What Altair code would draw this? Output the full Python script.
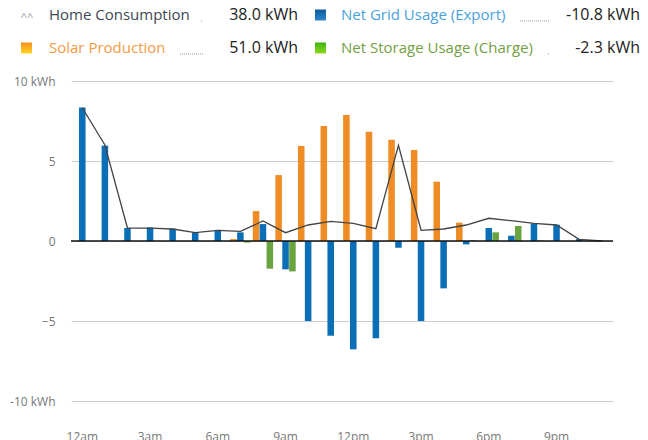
import altair as alt
import pandas as pd

# ---------------- data ----------------
hours = ["12am", "1am", "2am", "3am", "4am", "5am", "6am", "7am", "8am", "9am", "10am", "11am",
         "12pm", "1pm", "2pm", "3pm", "4pm", "5pm", "6pm", "7pm", "8pm", "9pm", "10pm", "11pm"]
tick_hours = ["12am", "3am", "6am", "9am", "12pm", "3pm", "6pm", "9pm"]

solar = [0, 0, 0, 0, 0, 0, 0, 0.12, 1.87, 4.12, 5.94, 7.19,
         7.88, 6.83, 6.33, 5.69, 3.71, 1.15, 0, 0, 0, 0, 0, 0]
grid = [8.35, 5.96, 0.81, 0.85, 0.77, 0.52, 0.69, 0.54, 1.06, -1.77, -5.0, -5.92,
        -6.77, -6.08, -0.42, -5.0, -2.96, -0.21, 0.81, 0.33, 1.08, 1.02, 0.12, 0.02]
storage = [0, 0, 0, 0, 0, 0, 0, -0.1, -1.73, -1.9, 0, 0,
           0, 0, 0, 0, 0, 0.05, 0.54, 0.94, 0.03, 0, 0, 0]
home = [8.33, 6.0, 0.81, 0.81, 0.75, 0.52, 0.67, 0.6, 1.25, 0.52, 1.0, 1.23,
        1.1, 0.77, 5.98, 0.67, 0.75, 1.0, 1.42, 1.27, 1.1, 1.0, 0.1, 0.0]

series_names = ["Solar Production", "Net Grid Usage (Export)", "Net Storage Usage (Charge)"]
legend_names = ["Home Consumption", "Solar Production", "Net Grid Usage (Export)", "Net Storage Usage (Charge)"]
legend_totals = ["38.0 kWh", "51.0 kWh", "-10.8 kWh", "-2.3 kWh"]
y_ticks = [-10, -5, 0, 5, 10]

# ---------------- styles ----------------
FONT = "Open Sans"
BLUE = "#0b6fb8"
ORANGE = "#f08c26"
GREEN = "#6aa441"

bars_df = pd.DataFrame({
    "hour": hours * 3,
    "series": [series_names[0]] * 24 + [series_names[1]] * 24 + [series_names[2]] * 24,
    "kwh": solar + grid + storage,
})
home_df = pd.DataFrame({"hour": hours, "kwh": home})

x_scale = alt.Scale(domain=hours, paddingInner=0.1, paddingOuter=0.05)
y_scale = alt.Scale(domain=[-10, 10], nice=False)

bars = alt.Chart(bars_df).mark_bar().encode(
    x=alt.X("hour:N", scale=x_scale, sort=hours,
            axis=alt.Axis(values=tick_hours, labelAngle=0, domain=False, ticks=False, grid=False,
                          labelPadding=30, labelFont=FONT, labelFontSize=12, labelColor="#777",
                          title=None)),
    xOffset=alt.XOffset("series:N", sort=series_names, scale=alt.Scale(domain=series_names, paddingInner=0.05)),
    y=alt.Y("kwh:Q", scale=y_scale,
            axis=alt.Axis(values=y_ticks, domain=False, ticks=False, gridColor="#cccccc",
                          labelExpr="datum.value == 10 ? '10 kWh' : datum.value == -10 ? '-10 kWh' : datum.label",
                          labelPadding=16, labelFont=FONT, labelFontSize=12, labelColor="#777",
                          title=None)),
    color=alt.Color("series:N", scale=alt.Scale(domain=series_names, range=[ORANGE, BLUE, GREEN]), legend=None),
)

line = alt.Chart(home_df).mark_line(color="#444444", strokeWidth=1.3).encode(
    x=alt.X("hour:N", scale=x_scale, sort=hours),
    y=alt.Y("kwh:Q", scale=y_scale),
)

zero = alt.Chart(pd.DataFrame({"v": [0]})).mark_rule(color="#111111", strokeWidth=1.5).encode(
    y=alt.Y("v:Q", scale=y_scale)
)

# ---------------- legend (custom, two rows) ----------------
one = pd.DataFrame({"a": [0]})
OX, OY = 71, 81  # plot origin in page pixels


def txt(text, px, py, color, size=15, align="left"):
    return alt.Chart(one).mark_text(text=text, font=FONT, fontSize=size, color=color,
                                    align=align, baseline="middle").encode(
        x=alt.value(px - OX), y=alt.value(py - OY))


def square(px, py, c1, c2):
    return alt.Chart(one).mark_rect(
        color=alt.Gradient(gradient="linear", x1=0, y1=0, x2=0, y2=1,
                           stops=[alt.GradientStop(color=c1, offset=0),
                                  alt.GradientStop(color=c2, offset=1)])
    ).encode(x=alt.value(px - OX), x2=alt.value(px - OX + 11),
             y=alt.value(py - OY - 5.5), y2=alt.value(py - OY + 5.5))


def leader(x1, x2, py):
    return alt.Chart(one).mark_rule(color="#999999", strokeWidth=1, strokeDash=[1, 1]).encode(
        x=alt.value(x1 - OX), x2=alt.value(x2 - OX), y=alt.value(py - OY), y2=alt.value(py - OY))


R1, R2 = 15, 48
legend = [
    txt("^^", 27, R1 + 3, "#999999", size=11, align="center"),
    txt(legend_names[0], 49, R1, "#3d4852"),
    leader(201, 203, R1 + 6),
    txt(legend_totals[0], 298, R1, "#222222", size=16, align="right"),
    square(315, R1, "#0a5c9c", "#2b86c8"),
    txt(legend_names[2], 341, R1, "#4aa2dc"),
    leader(520, 549, R1 + 6),
    txt(legend_totals[2], 640, R1, "#222222", size=16, align="right"),

    square(21, R2, "#f7901e", "#ffd324"),
    txt(legend_names[1], 49, R2, "#f39a45"),
    leader(180, 203, R2 + 6),
    txt(legend_totals[1], 298, R2, "#222222", size=16, align="right"),
    square(315, R2, "#3cb414", "#8ed81c"),
    txt(legend_names[3], 341, R2, "#73a044"),
    leader(548, 550, R2 + 6),
    txt(legend_totals[3], 640, R2, "#222222", size=16, align="right"),
]

chart = alt.layer(bars, line, zero, *legend).properties(
    width=542, height=320,
    autosize=alt.AutoSizeParams(type="none"),
    padding={"left": 63, "top": 73, "right": 27, "bottom": 39},
).configure(background="white", view=alt.ViewConfig(stroke=None))

chart.save("out.html", embed_options={"renderer": "svg", "actions": False})
